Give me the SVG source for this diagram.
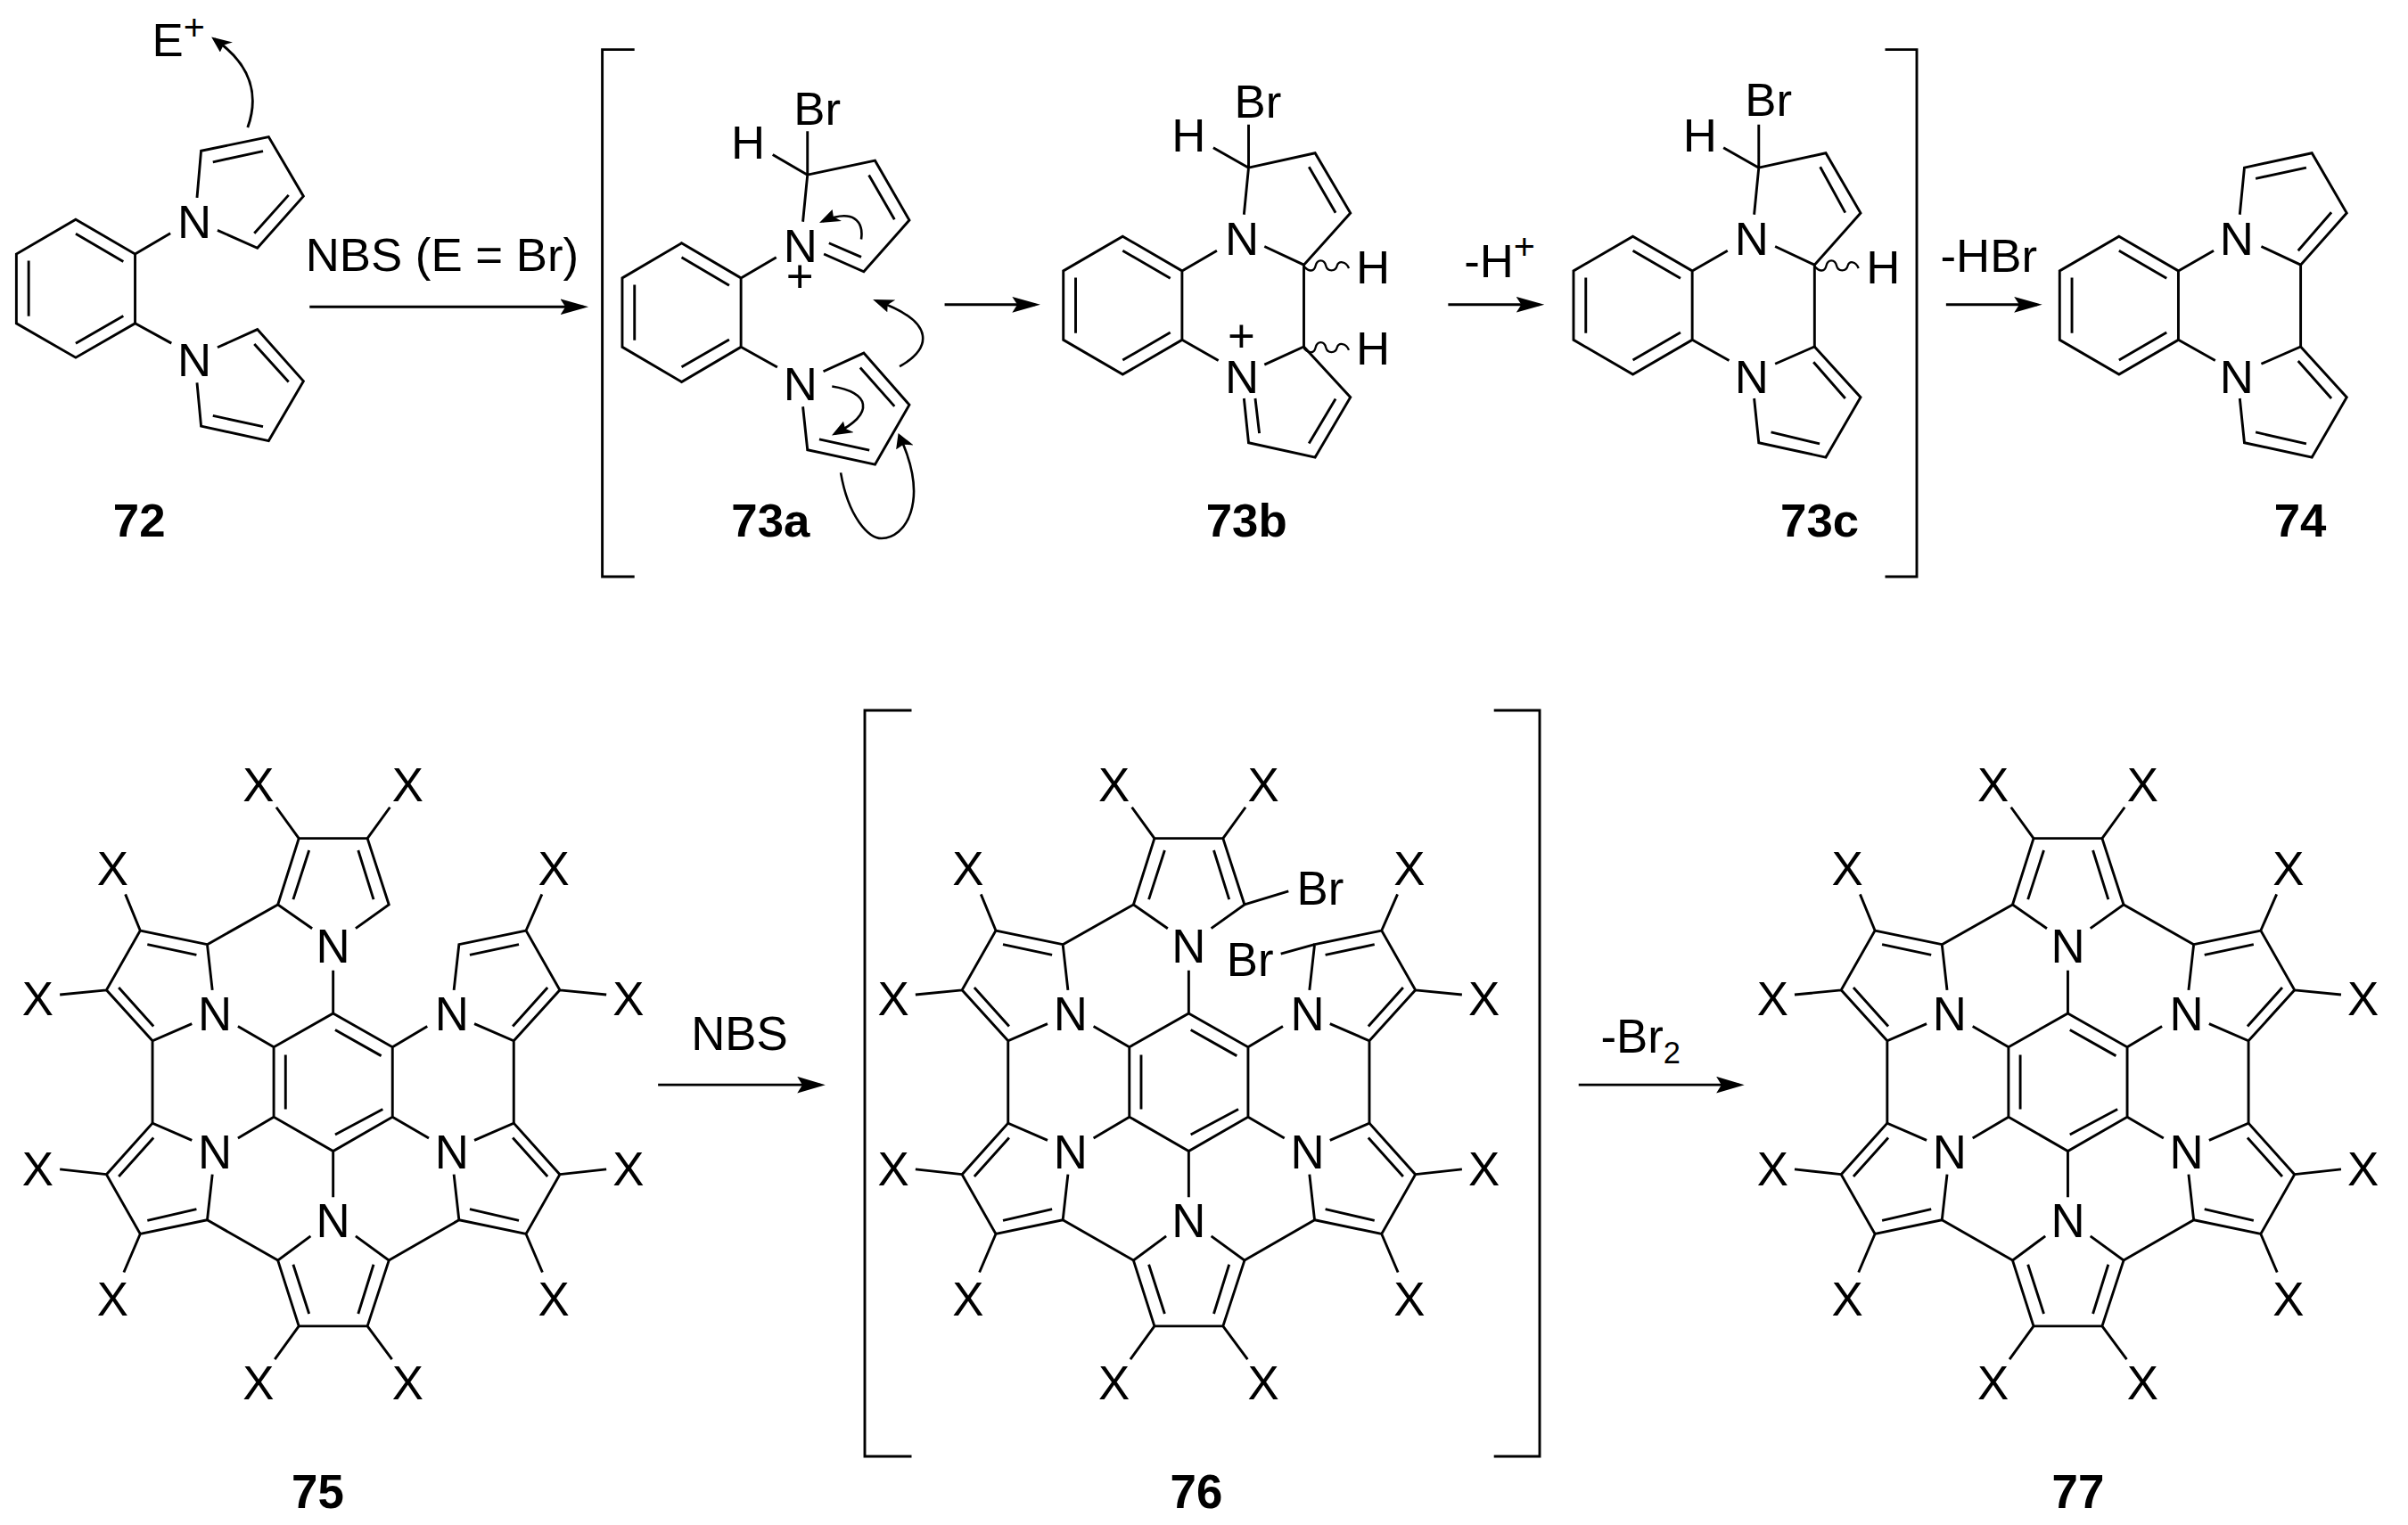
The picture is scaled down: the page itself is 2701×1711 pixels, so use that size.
<svg xmlns="http://www.w3.org/2000/svg" xmlns:xlink="http://www.w3.org/1999/xlink" width="2701" height="1711" viewBox="0 0 2701 1711">
<style>
text{font-family:"Liberation Sans",Arial,sans-serif;font-size:92px;text-anchor:middle;fill:#000}
.l{text-anchor:start}
.b{font-weight:bold}
path{fill:none;stroke:#000;stroke-width:2.9;vector-effect:non-scaling-stroke}
marker path{fill:#000;stroke:none}
.w{stroke-width:2.3}
.th{stroke-width:2.6}
</style>
<defs>
<marker id="a" markerUnits="userSpaceOnUse" markerWidth="60" markerHeight="44" refX="45" refY="21" orient="auto"><path d="M0,0L55,21L0,42L10,21z"/></marker>
<marker id="a2" markerUnits="userSpaceOnUse" markerWidth="60" markerHeight="34" refX="45" refY="16" orient="auto"><path d="M0,0L55,16L0,32L10,16z"/></marker>
<marker id="c" markerUnits="userSpaceOnUse" markerWidth="44" markerHeight="40" refX="32" refY="18" orient="auto"><path d="M0,0L40,18L0,36L8,18z"/></marker>
<g id="core">
<path d="M651,580L767,645V780L651,846L535,780V645zM655,612L745,662M558,660V765M655,814L748,765M651,497V580M651,846V935M465,605L535,645M767,645L835,605M535,780L465,821M767,780L838,821"/>
<path d="M610,416L543,370L584,242H718L760,370L695,416M573,360L604,265M730,360L700,265M584,242L540,182M718,242L762,182"/>
<path d="M607,1010L543,1057L584,1184H718L760,1057L695,1010M573,1065L604,1160M730,1065L700,1160M584,1184L537,1248M718,1184L766,1248"/>
<path d="M415,535L405,447L274,420L208,535L298,633L375,600M384,467L288,447M232,530L300,605M274,420L245,350M208,535L117,544M298,633V792M405,447L543,370"/>
<path d="M415,891L405,979L274,1006L208,891L298,792L375,825M384,958L288,980M232,895L300,820M274,1006L242,1080M208,891L117,881M405,979L543,1057"/>
<path d="M887,535L897,447L1028,420L1094,535L1004,633L927,600M918,467L1014,447M1070,530L1002,605M1028,420L1059,350M1094,535L1185,544M1004,633V792"/>
<path d="M887,891L897,979L1028,1006L1094,891L1004,792L927,825M918,958L1014,980M1070,895L1002,820M1028,1006L1060,1080M1094,891L1185,881M897,979L760,1057"/>
</g>
</defs>
<rect width="2701" height="1711" fill="#fff"/>

<g id="m72" transform="scale(.57398,.42092)">
<path d="M148,585L264,677V862L148,953L32,862V677zM148,623L241,697M148,915L241,842M56,695V843M264,677L333,622M264,862L335,915"/>
<path d="M385,527L393,402L525,365L593,523L503,661L425,614M416,432L514,403M497,622L564,520"/>
<path d="M425,926L503,878L593,1016L525,1175L393,1136L385,1020M497,917L564,1018M416,1108L514,1137"/>
<text transform="matrix(1 0 0 1.36 380 635)">N</text>
<text transform="matrix(1 0 0 1.36 380 1002)">N</text>
<text class="l" transform="matrix(1 0 0 1.36 297 150)">E<tspan font-size="72" dy="-32">+</tspan></text>
<text class="b" transform="matrix(1 0 0 1.36 272 1430)">72</text>
</g>

<g id="m73a" transform="translate(900,0) scale(.57398,.42092)">
<path d="M-236,648L-120,741V925L-236,1018L-352,925V741zM-236,686L-143,761M-236,978L-143,905M-328,759V907M-120,741L-51,686M-120,925L-49,979"/>
<path d="M1,591L10,466L142,428L209,587L120,724L42,677M130,467L180,585M52,648L115,685M-58,412L10,466M10,350V466"/>
<path d="M41,990L120,941L209,1079L142,1238L10,1199L1,1084M113,980L180,1083M33,1171L131,1200"/>
<text transform="matrix(1 0 0 1.36 -4 699)">N</text>
<text transform="matrix(1 0 0 1.36 -4 1066)">N</text>
<text transform="matrix(1 0 0 1.36 29 332)">Br</text>
<text transform="matrix(1 0 0 1.36 -106 422)">H</text>
<text font-size="72" transform="matrix(1 0 0 1.36 -5 779)">+</text>
<text class="b" transform="matrix(1 0 0 1.36 -62 1430)">73a</text>
<path class="th" marker-end="url(#c)" d="M115,638C120,590 100,555 40,590"/>
<path class="th" marker-end="url(#c)" d="M190,977C250,930 265,860 145,802"/>
<path class="th" marker-end="url(#c)" d="M58,1030C130,1045 145,1100 64,1156"/>
<path class="th" marker-end="url(#c)" d="M75,1260C90,1380 130,1435 155,1435C200,1435 250,1340 190,1162"/>
</g>

<g id="m73b" transform="translate(900,0) scale(.57398,.42092)">
<path d="M626,630L742,722V906L626,998L510,906V722zM626,668L719,742M626,960L719,886M534,740V888M742,722L810,668M742,906L813,961"/>
<path d="M863,572L872,447L1002,408L1071,568L980,706L903,657M990,445L1042,567M872,332V447M803,394L872,447M980,706V924"/>
<path d="M903,972L980,924L1071,1059L1002,1219L872,1180L863,1062M885,1062L893,1155M990,1182L1042,1063"/>
<path class="w" d="M980,710C990,725 1000,725 1003,708C1006,690 1020,690 1023,708C1026,725 1042,725 1045,708C1048,695 1062,695 1068,715"/>
<path class="w" d="M980,928C990,943 1000,943 1003,926C1006,908 1020,908 1023,926C1026,943 1042,943 1045,926C1048,913 1062,913 1068,933"/>
<text transform="matrix(1 0 0 1.36 859 680)">N</text>
<text transform="matrix(1 0 0 1.36 859 1048)">N</text>
<text transform="matrix(1 0 0 1.36 890 313)">Br</text>
<text transform="matrix(1 0 0 1.36 755 404)">H</text>
<text transform="matrix(1 0 0 1.36 1115 755)">H</text>
<text transform="matrix(1 0 0 1.36 1115 971)">H</text>
<text font-size="72" transform="matrix(1 0 0 1.36 858 939)">+</text>
<text class="b" transform="matrix(1 0 0 1.36 868 1430)">73b</text>
</g>

<g id="m73c" transform="translate(1800,0) scale(.57398,.42092)">
<path d="M55,630L171,722V906L55,998L-61,906V722zM55,668L148,742M55,960L148,886M-37,740V888M171,722L240,668M171,906L243,961"/>
<path d="M292,572L301,447L432,408L500,568L410,706L333,657M421,445L470,567M301,332V447M232,394L301,447M410,706V924"/>
<path d="M333,970L410,924L500,1059L432,1219L301,1180L292,1062M408,965L470,1062M325,1152L420,1183"/>
<path class="w" d="M410,710C420,725 430,725 433,708C436,690 450,690 453,708C456,725 472,725 475,708C478,695 490,695 496,715"/>
<text transform="matrix(1 0 0 1.36 287 680)">N</text>
<text transform="matrix(1 0 0 1.36 287 1048)">N</text>
<text transform="matrix(1 0 0 1.36 320 310)">Br</text>
<text transform="matrix(1 0 0 1.36 186 404)">H</text>
<text transform="matrix(1 0 0 1.36 544 755)">H</text>
<text class="b" transform="matrix(1 0 0 1.36 420 1430)">73c</text>
</g>

<g id="m74" transform="translate(1800,0) scale(.57398,.42092)">
<path d="M1005,630L1121,722V906L1005,998L889,906V722zM1005,668L1098,742M1005,960L1098,886M913,740V888M1121,722L1190,668M1121,906L1193,961"/>
<path d="M1241,572L1250,447L1382,408L1450,568L1360,706L1283,657M1272,476L1371,447M1355,668L1420,566M1360,706V924"/>
<path d="M1283,970L1360,924L1450,1059L1382,1219L1250,1180L1241,1062M1355,962L1420,1062M1272,1152L1371,1183"/>
<text transform="matrix(1 0 0 1.36 1235 680)">N</text>
<text transform="matrix(1 0 0 1.36 1235 1048)">N</text>
<text class="b" transform="matrix(1 0 0 1.36 1359 1430)">74</text>
</g>

<g id="m75" transform="translate(0,800) scale(.57398,.58099)">
<use xlink:href="#core" href="#core"/>
<text x="651" y="482">N</text><text x="651" y="1012">N</text><text x="420" y="613">N</text><text x="883" y="613">N</text><text x="420" y="880">N</text><text x="883" y="880">N</text>
<text x="505" y="170">X</text><text x="797" y="170">X</text><text x="220" y="333">X</text><text x="1082" y="333">X</text><text x="74" y="584">X</text><text x="1228" y="584">X</text><text x="74" y="912">X</text><text x="1228" y="912">X</text><text x="220" y="1163">X</text><text x="1082" y="1163">X</text><text x="505" y="1325">X</text><text x="797" y="1325">X</text>
<text class="b" x="621" y="1535">75</text>
</g>

<g id="m76" transform="translate(959.7,800) scale(.57398,.58099)">
<use xlink:href="#core" href="#core"/>
<path d="M760,370L846,344M897,447L831,465"/>
<text x="651" y="482">N</text><text x="651" y="1012">N</text><text x="420" y="613">N</text><text x="883" y="613">N</text><text x="420" y="880">N</text><text x="883" y="880">N</text>
<text x="505" y="170">X</text><text x="797" y="170">X</text><text x="220" y="333">X</text><text x="1082" y="333">X</text><text x="74" y="584">X</text><text x="1228" y="584">X</text><text x="74" y="912">X</text><text x="1228" y="912">X</text><text x="220" y="1163">X</text><text x="1082" y="1163">X</text><text x="505" y="1325">X</text><text x="797" y="1325">X</text>
<text x="908" y="370">Br</text><text x="771" y="507">Br</text>
<text class="b" x="666" y="1535">76</text>
</g>

<g id="m77" transform="translate(1945.8,800) scale(.57398,.58099)">
<use xlink:href="#core" href="#core"/>
<path d="M760,370L897,447"/>
<text x="651" y="482">N</text><text x="651" y="1012">N</text><text x="420" y="613">N</text><text x="883" y="613">N</text><text x="420" y="880">N</text><text x="883" y="880">N</text>
<text x="505" y="170">X</text><text x="797" y="170">X</text><text x="220" y="333">X</text><text x="1082" y="333">X</text><text x="74" y="584">X</text><text x="1228" y="584">X</text><text x="74" y="912">X</text><text x="1228" y="912">X</text><text x="220" y="1163">X</text><text x="1082" y="1163">X</text><text x="505" y="1325">X</text><text x="797" y="1325">X</text>
<text class="b" x="671" y="1535">77</text>
</g>

<g id="brackets">
<path d="M711.7,55.6H675.6V647H711.7M2114.5,55.6H2150V647H2114.5"/>
<path d="M1022.5,1634H970V797H1022.5M1675.7,797H1727V1634H1675.7"/>
</g>

<g id="connectors">
<g transform="scale(.57398,.42092)">
<path marker-end="url(#c)" d="M484,340C505,260 495,175 419,104"/>
<path marker-end="url(#a)" d="M605,818H1140"/>
<path marker-end="url(#a)" d="M1846,812H2023"/>
<path marker-end="url(#a)" d="M2830,812H3008"/>
<path marker-end="url(#a)" d="M3803,812H3981"/>
</g>
<g transform="translate(0,800) scale(.57398,.58099)">
<path marker-end="url(#a2)" d="M1286,718H1603"/>
<path marker-end="url(#a2)" d="M3085,718H3399"/>
</g>
</g>

<g id="labels-top" transform="scale(.57398,.42092)">
<text transform="matrix(1 0 0 1.36 864 722)">NBS (E = Br)</text>
<text class="l" transform="matrix(1 0 0 1.36 2861 738)">-H<tspan font-size="72" dy="-34">+</tspan></text>
<text class="l" transform="matrix(1 0 0 1.36 3792 725)">-HBr</text>
</g>
<g id="labels-bottom" transform="translate(0,800) scale(.57398,.58099)">
<text x="1445" y="650">NBS</text>
<text class="l" x="3128" y="655">-Br<tspan font-size="60" dy="22">2</tspan></text>
</g>
</svg>
